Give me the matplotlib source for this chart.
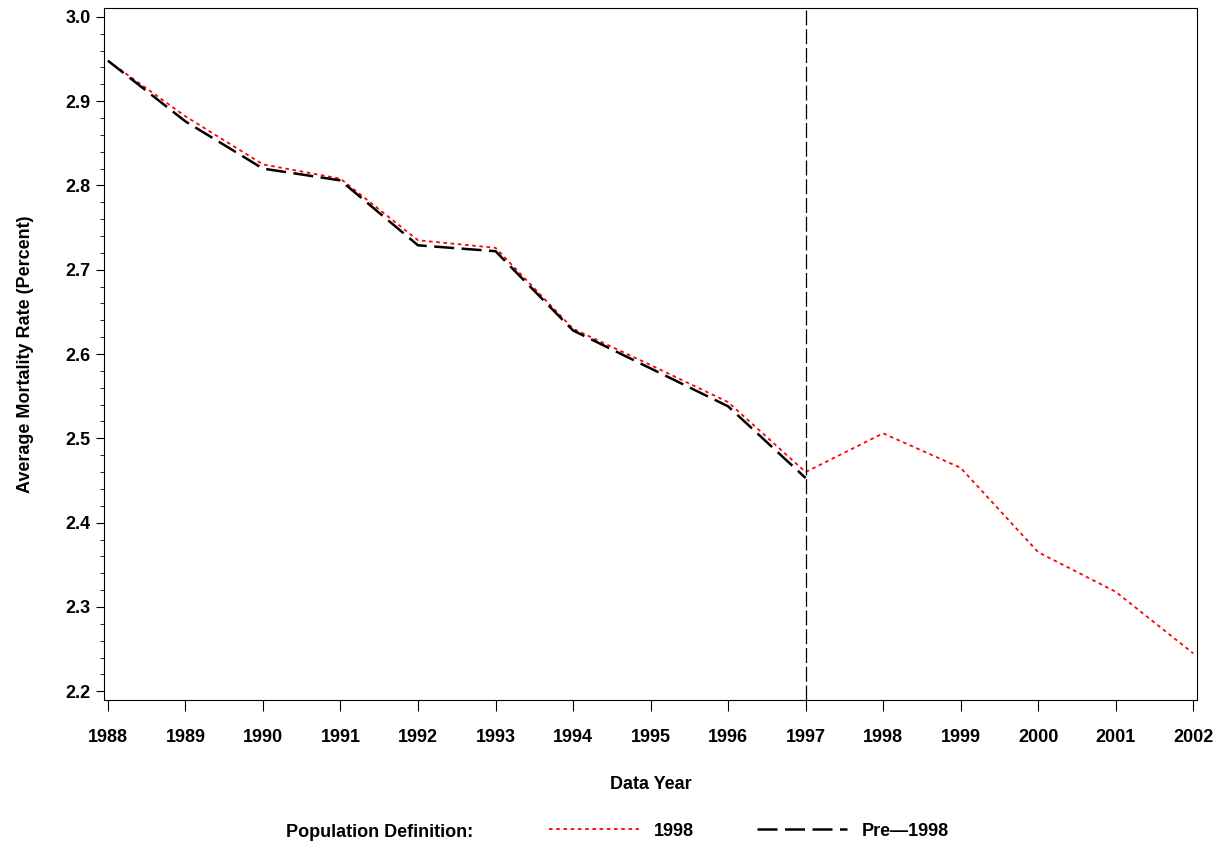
import matplotlib
matplotlib.use("Agg")
import matplotlib.pyplot as plt
from matplotlib.ticker import MultipleLocator

plt.rcParams['font.family'] = ['Liberation Sans', 'DejaVu Sans']
plt.rcParams['font.weight'] = 'bold'

years = list(range(1988, 2003))
rate_1998 = [2.948, 2.882, 2.825, 2.808, 2.735, 2.726, 2.630, 2.587, 2.543,
             2.460, 2.506, 2.465, 2.365, 2.318, 2.245]
years_pre = list(range(1988, 1998))
rate_pre = [2.948, 2.876, 2.820, 2.806, 2.729, 2.722, 2.628, 2.583, 2.538, 2.453]

fig = plt.figure(figsize=(12.24, 8.44), dpi=100)
ax = fig.add_axes([0.085, 0.171, 0.893, 0.819])

l1, = ax.plot(years, rate_1998, color='red', linestyle=(0, (2, 2)), linewidth=1.3, label='1998')
l2, = ax.plot(years_pre, rate_pre, color='black', linestyle=(0, (8, 3)), linewidth=1.8, label='Pre\u20141998')
ax.axvline(1997, color='black', linestyle=(0, (12, 3)), linewidth=0.9)

ax.set_xlim(1987.95, 2002.05)
ax.set_ylim(2.19, 3.01)
ax.set_xticks(years)
ax.yaxis.set_major_locator(MultipleLocator(0.1))
ax.yaxis.set_minor_locator(MultipleLocator(0.02))
ax.tick_params(labelsize=13, length=6)
ax.tick_params(axis='x', pad=13, length=8)
ax.tick_params(which='minor', length=3)
ax.set_xlabel('Data Year', fontsize=13, fontweight='bold', labelpad=22)
ax.set_ylabel('Average Mortality Rate (Percent)', fontsize=13, fontweight='bold', labelpad=23)

fig.text(0.234, 0.008, 'Population Definition:', fontsize=13, fontweight='bold')
fig.legend(handles=[l1, l2], loc='lower left', bbox_to_anchor=(0.435, -0.014), ncol=2,
           frameon=False, fontsize=13, handlelength=5, columnspacing=3.5)

fig.savefig('out.png', dpi=100, facecolor='white')
